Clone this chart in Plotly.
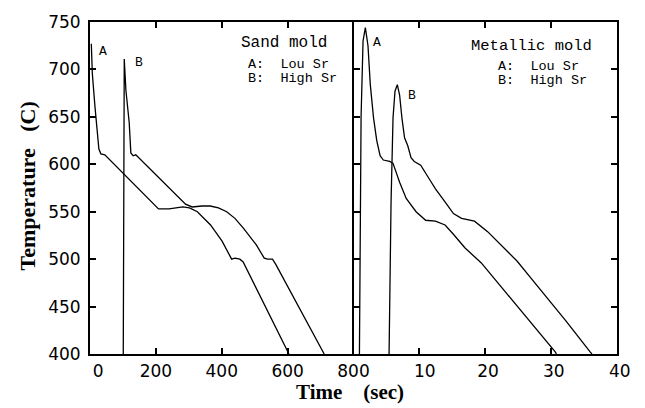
import plotly.graph_objects as go

# ---------------- data ----------------
sand_a_t = [4, 7, 15, 27, 33, 45, 208, 240, 282, 302, 326, 366, 401, 430, 440, 455, 465, 604]
sand_a_T = [727, 696, 661, 616, 611, 610, 553, 553, 555, 554, 550, 536, 519, 500, 501, 500, 497, 400]

sand_b_t = [101, 102, 104, 109, 119, 124, 131, 139, 290, 310, 340, 365, 390, 415, 440, 465, 505, 529, 539, 554, 564, 711]
sand_b_T = [400, 690, 711, 678, 644, 612, 609, 610, 558, 555, 556, 556, 554, 550, 543, 533, 515, 501, 500, 500, 494.5, 400]

metal_a_t = [0.9, 1.15, 1.45, 1.8, 2.2, 2.55, 3.04, 3.53, 4.04, 4.53, 5.5, 6.0, 7.0, 8.0, 9.5, 10.95,
             12.44, 13.9, 15.2, 16.9, 19.4, 20.85, 23.3, 25.8, 28.3, 30.65, 30.8]
metal_a_T = [400, 650, 730, 744, 725, 684, 649, 625, 609, 604.5, 603, 601, 581, 564, 550, 541,
             540, 536, 526, 512, 496, 484, 463, 442, 422, 402, 400]

metal_b_t = [5.4, 5.7, 6.0, 6.3, 6.65, 7.0, 7.35, 7.75, 8.24, 8.73, 9.23, 10.2, 11.46, 12.44, 13.92,
             15.17, 16.4, 18.37, 20.36, 22.83, 24.82, 27.28, 29.76, 32.24, 35.95, 36.2]
metal_b_T = [400, 560, 649, 677, 684, 673, 649, 628, 619.5, 607, 603, 599, 585, 574, 560,
             548, 543, 540, 529, 512, 498, 477, 456, 435, 402, 400]

y_ticks = [400, 450, 500, 550, 600, 650, 700, 750]
x1_ticks = [0, 200, 400, 600, 800]
x1_labels = ["\u00a0\u00a0\u00a00", "200", "400", "600", "800"]
x2_ticks = [10, 20, 30, 40]
x2_labels = ["\u00a0\u00a010", "\u00a020", "\u00a030", "\u00a040"]

# ---------------- figure ----------------
W, H = 645, 408
L, R, T, B = 90, 16, 18, 54
PW, PH = W - L - R, H - T - B


def px(x):
    return (x - L) / PW


def py(y):
    return (H - B - y) / PH


line_style = dict(color="black", width=1.3)
fig = go.Figure()
fig.add_trace(go.Scatter(x=sand_a_t, y=sand_a_T, mode="lines", line=line_style, xaxis="x", yaxis="y"))
fig.add_trace(go.Scatter(x=sand_b_t, y=sand_b_T, mode="lines", line=line_style, xaxis="x", yaxis="y"))
fig.add_trace(go.Scatter(x=metal_a_t, y=metal_a_T, mode="lines", line=line_style, xaxis="x2", yaxis="y2"))
fig.add_trace(go.Scatter(x=metal_b_t, y=metal_b_T, mode="lines", line=line_style, xaxis="x2", yaxis="y2"))

tick_font = dict(family="DejaVu Sans", size=17, color="black")
common = dict(linecolor="black", linewidth=2, ticklen=6,
              tickwidth=1.5, tickcolor="black", showgrid=False, zeroline=False,
              tickfont=tick_font)

fig.update_layout(
    width=W, height=H,
    margin=dict(l=L, r=R, t=T, b=B),
    paper_bgcolor="white", plot_bgcolor="white",
    showlegend=False,
    xaxis=dict(domain=[0, 0.5], range=[0, 800], tickvals=x1_ticks, ticktext=x1_labels,
               anchor="y", ticklabelstandoff=1, showline=True, ticks="inside", mirror="ticks", **common),
    xaxis2=dict(domain=[0.5, 1], range=[0, 40], tickvals=x2_ticks, ticktext=x2_labels,
                anchor="y2", ticklabelstandoff=1, showline=True, ticks="inside", mirror="ticks", **common),
    yaxis=dict(domain=[0, 1], range=[400, 750], tickvals=y_ticks, anchor="x",
               ticklabelstandoff=4, showline=True, ticks="inside", mirror=False, **common),
    yaxis2=dict(domain=[0, 1], range=[400, 750], tickvals=y_ticks, anchor="x2",
                showticklabels=False, showline=True, ticks="inside", mirror="ticks", **common),
    yaxis3=dict(range=[400, 750], tickvals=y_ticks, anchor="x2", overlaying="y2", side="left",
                showticklabels=False, showline=False, ticks="outside", **common),
)

mono = "Liberation Mono"
ann = []


def add(text, x, y, size, family=mono, xanchor="left", yanchor="middle", **kw):
    ann.append(dict(text=text, x=px(x), y=py(y), xref="paper", yref="paper", showarrow=False,
                    xanchor=xanchor, yanchor=yanchor, font=dict(family=family, size=size, color="black"), **kw))


add("Sand mold", 242, 39, 16)
add("A:  Lou Sr", 250, 61, 13.5)
add("B:  High Sr", 250, 75, 13.5)
add("Metallic mold", 478, 42.5, 15.5)
add("A:  Lou Sr", 505, 63, 13.5)
add("B:  High Sr", 505, 77, 13.5)
add("A", 103, 48, 13, xanchor="center")
add("B", 140, 59, 13, xanchor="center")
add("A", 384, 39, 13, xanchor="center")
add("B", 419, 92, 13, xanchor="center")
add("<b>Time\u00a0\u00a0\u00a0\u00a0(sec)</b>", 356, 407, 21, family="Liberation Serif", xanchor="center",
    yanchor="bottom")
add("<b>Temperature\u00a0\u00a0\u00a0(C)</b>", 26, 184, 22, family="Liberation Serif", xanchor="center",
    textangle=-90)
fig.update_layout(annotations=ann)

fig.write_html("out.html")
